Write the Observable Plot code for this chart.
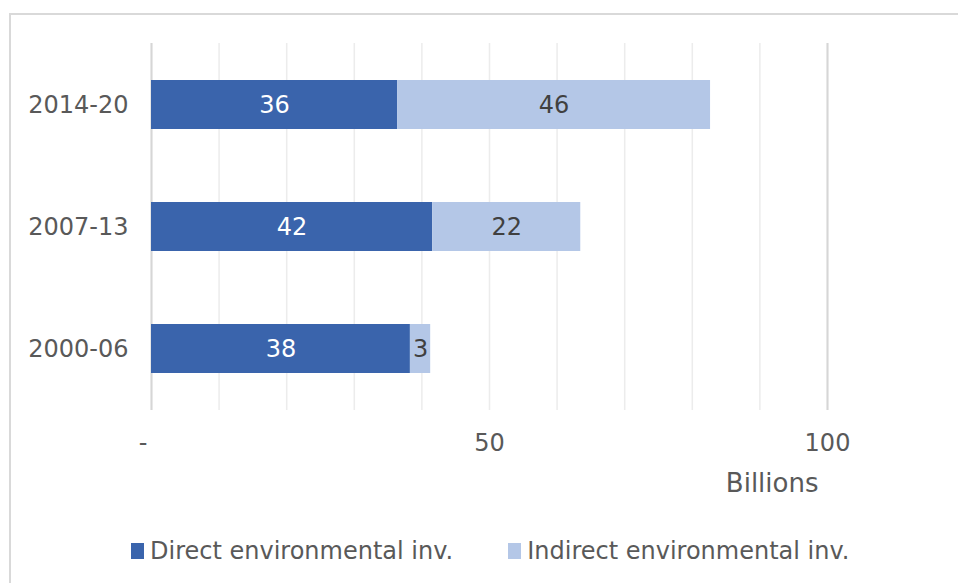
<!DOCTYPE html>
<html>
<head>
<meta charset="utf-8">
<script src="https://cdn.jsdelivr.net/npm/d3@7"></script>
<script src="https://cdn.jsdelivr.net/npm/@observablehq/plot@0.6"></script>
<style>
  html, body { margin: 0; padding: 0; background: #fff; }
  #wrap { position: relative; width: 958px; height: 583px; overflow: hidden; font-family: "DejaVu Sans", Verdana, sans-serif; }
  #frame { position: absolute; left: 9px; top: 13px; right: -4px; bottom: -4px; border-top: 2px solid #d9d9d9; border-left: 2px solid #d9d9d9; }
  #chart { position: absolute; left: 0; top: 0; }
  #legend { position: absolute; left: 131px; top: 536px; display: flex; align-items: center; gap: 55px; color: #595959; font-size: 24px; line-height: 30px; }
  .item { display: flex; align-items: center; gap: 6px; }
  .sw { width: 13px; height: 16px; display: inline-block; }
</style>
</head>
<body>
<div id="wrap">
  <div id="frame"></div>
  <div id="chart"></div>
  <div id="legend"></div>
</div>
<script>
const periods = ["2014-20", "2007-13", "2000-06"];
const direct = [36.4, 41.6, 38.3];
const indirect = [46.3, 21.9, 3.0];
const seriesNames = ["Direct environmental inv.", "Indirect environmental inv."];
const seriesColors = ["#3a64ac", "#b4c7e7"];
const labelColors = ["#ffffff", "#404040"];
const xTicks = [0, 50, 100];
const gridTicks = [0, 10, 20, 30, 40, 50, 60, 70, 80, 90, 100];
const xDomain = [0, 100];
const axisTitle = "Billions";

const data = periods.flatMap((p, i) => [
  {period: p, type: seriesNames[0], value: direct[i], lc: labelColors[0]},
  {period: p, type: seriesNames[1], value: indirect[i], lc: labelColors[1]}
]);

const chart = Plot.plot({
  width: 958,
  height: 510,
  marginLeft: 151,
  marginRight: 131,
  marginTop: 43,
  marginBottom: 100,
  x: {domain: xDomain},
  y: {domain: periods, paddingInner: 0.6, paddingOuter: 0.3},
  color: {domain: seriesNames, range: seriesColors},
  style: {fontFamily: "DejaVu Sans, Verdana, sans-serif", fontSize: "24px", color: "#595959", background: "transparent"},
  marks: [
    Plot.ruleX(gridTicks, {stroke: "#ececec", strokeWidth: 1.5}),
    Plot.ruleX(xDomain, {stroke: "#d6d6d6", strokeWidth: 2}),
    Plot.barX(data, Plot.stackX({x: "value", y: "period", fill: "type"})),
    Plot.text(data, Plot.stackX({x: "value", y: "period", z: "type", text: d => Math.round(d.value), fill: "lc", fontSize: 24})),
    Plot.axisX({ticks: xTicks, tickSize: 0, tickPadding: 23, tickFormat: d => d === 0 ? "-\u2002\u2009" : String(d), label: null, fontSize: 24}),
    Plot.axisY({tickSize: 0, tickPadding: 23, label: null, fontSize: 24}),
    Plot.text([axisTitle], {frameAnchor: "bottom-right", dx: -9, dy: 81, fontSize: 26, lineAnchor: "bottom", fill: "#595959"})
  ]
});
document.getElementById("chart").appendChild(chart);

const legend = document.getElementById("legend");
seriesNames.forEach((name, i) => {
  const item = document.createElement("div");
  item.className = "item";
  const sw = document.createElement("span");
  sw.className = "sw";
  sw.style.background = seriesColors[i];
  const t = document.createElement("span");
  t.textContent = name;
  item.appendChild(sw);
  item.appendChild(t);
  legend.appendChild(item);
});
</script>
</body>
</html>
